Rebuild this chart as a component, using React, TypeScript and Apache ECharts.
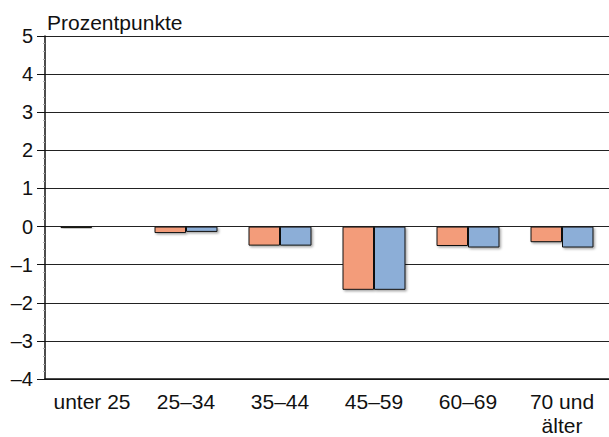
import React, { useEffect, useRef } from "react";
import * as echarts from "echarts";

const categories = ["unter 25", "25–34", "35–44", "45–59", "60–69", "70 und\nälter"];
const seriesA = [-0.04, -0.17, -0.5, -1.66, -0.51, -0.41];
const seriesB = [-0.01, -0.14, -0.5, -1.66, -0.55, -0.55];
const yMin = -4;
const yMax = 5;
const yInterval = 1;
const unitLabel = "Prozentpunkte";

const FONT = "Liberation Sans";

export default function App() {
  const ref = useRef<HTMLDivElement>(null);
  useEffect(() => {
    if (!ref.current) return;
    const chart = echarts.init(ref.current, undefined, { renderer: "svg" });
    const barStyle = (color: string) => ({
      color,
      borderColor: "#111",
      borderWidth: 1,
      shadowColor: "rgba(0,0,0,0.35)",
      shadowOffsetX: 1.5,
      shadowOffsetY: 1.5,
      shadowBlur: 2,
    });
    chart.setOption({
      animation: false,
      textStyle: { fontFamily: FONT },
      title: {
        text: unitLabel,
        left: 42,
        top: 7,
        textStyle: { fontFamily: FONT, fontSize: 21, fontWeight: "normal", color: "#111" },
      },
      grid: { left: 45, right: -2, top: 36, bottom: 55, containLabel: false },
      xAxis: {
        type: "category",
        data: categories,
        axisLine: { show: true, onZero: false, lineStyle: { color: "#111", width: 1.5 } },
        axisTick: { show: false },
        axisLabel: {
          fontFamily: FONT,
          fontSize: 21,
          color: "#111",
          margin: 10,
          lineHeight: 24,
          interval: 0,
        },
      },
      yAxis: {
        type: "value",
        min: yMin,
        max: yMax,
        interval: yInterval,
        axisLine: { show: true, lineStyle: { color: "#111", width: 1.5 } },
        axisTick: { show: true, inside: false, length: 8, lineStyle: { color: "#111" } },
        minorTick: { show: true, splitNumber: 5, length: 2, lineStyle: { color: "#aaa" } },
        axisLabel: {
          fontFamily: FONT,
          fontSize: 20,
          color: "#111",
          margin: 12,
          formatter: (v: number) => String(v).replace("-", "–"),
        },
        splitLine: { show: true, lineStyle: { color: "#222", width: 1 } },
      },
      series: [
        {
          type: "bar",
          data: seriesA,
          barGap: "0%",
          barCategoryGap: "33%",
          itemStyle: barStyle("#F39C7A"),
        },
        {
          type: "bar",
          data: seriesB,
          barGap: "0%",
          barCategoryGap: "33%",
          itemStyle: barStyle("#8CAED7"),
        },
      ],
    });
    return () => chart.dispose();
  }, []);
  return <div ref={ref} style={{ width: 609, height: 437, position: "absolute", left: 0, top: 0 }} />;
}
